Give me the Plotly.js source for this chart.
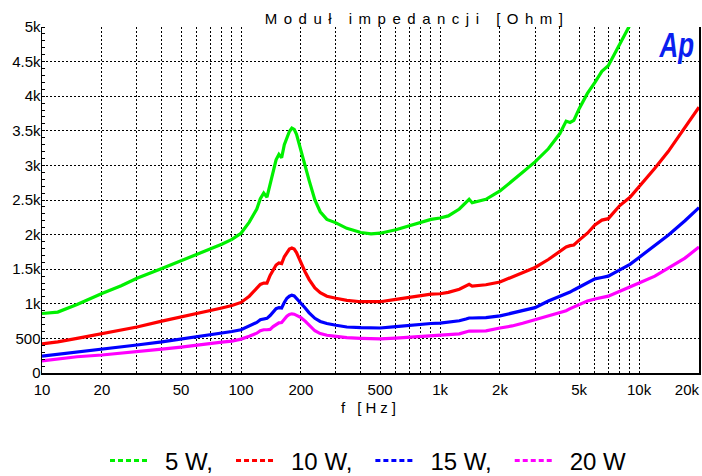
<!DOCTYPE html>
<html>
<head>
<meta charset="utf-8">
<script src="https://cdn.plot.ly/plotly-3.0.1.min.js"></script>
<style>
html,body{margin:0;padding:0;background:#fff;}
#chart{width:702px;height:476px;}
</style>
</head>
<body>
<div id="chart"></div>
<script>
// Frequencies [Hz]
var freq = [10,12,15,20,25,30,40,50,60,70,80,90,100,110,120,125,130,135,140,145,150,155,160,165,170,175,180,185,190,200,210,220,235,250,270,300,340,400,450,500,600,700,800,900,1000,1100,1250,1350,1400,1450,1500,1700,2000,2300,2600,3000,3500,4000,4300,4500,4700,5000,5500,6000,6500,7000,8000,9000,10000,12000,14000,17000,20000];

// Impedance modulus [Ohm]
var z5W = [860,880,990,1150,1260,1370,1510,1620,1720,1790,1860,1930,2020,2180,2370,2520,2600,2540,2720,2880,3080,3160,3110,3300,3400,3490,3540,3520,3450,3200,2980,2780,2500,2330,2220,2170,2090,2030,2010,2020,2070,2130,2180,2220,2240,2270,2370,2460,2510,2460,2470,2510,2630,2780,2900,3050,3240,3460,3640,3620,3650,3820,4040,4200,4360,4440,4760,5030,null,null,null,null,null];
var z10W = [420,450,500,565,620,665,750,810,855,895,940,975,1020,1110,1220,1280,1300,1300,1410,1490,1560,1590,1580,1680,1740,1790,1805,1790,1740,1590,1460,1350,1230,1160,1110,1080,1050,1030,1025,1030,1065,1095,1120,1140,1145,1165,1210,1250,1280,1255,1260,1275,1315,1385,1450,1525,1640,1760,1820,1840,1850,1920,2020,2140,2210,2230,2420,2540,2690,2960,3200,3540,3840];
var z15W = [245,270,310,345,380,405,450,490,520,550,580,600,625,680,730,770,785,790,830,890,930,945,940,1020,1080,1110,1125,1115,1080,1020,940,870,790,745,715,690,665,655,650,650,670,690,705,715,720,735,755,780,795,795,795,800,825,865,900,945,1040,1110,1140,1170,1200,1240,1310,1360,1380,1400,1490,1570,1670,1850,1990,2200,2390];
var z20W = [175,200,235,260,285,305,345,375,405,430,445,460,490,530,575,610,625,625,630,670,705,725,730,780,820,845,855,850,835,800,750,690,610,570,545,530,510,500,495,492,505,520,535,545,550,555,565,590,607,605,605,610,650,680,720,770,820,870,900,930,955,985,1040,1070,1095,1110,1180,1240,1300,1400,1510,1660,1820];

var seriesNames = ['5 W,', '10 W,', '15 W,', '20 W'];
var seriesColors = ['#00f000', '#ff0000', '#0000ff', '#ff00ff'];

// Axis ticks
var xTickVals = [10,20,30,40,50,60,70,80,90,100,200,300,400,500,600,700,800,900,1000,2000,3000,4000,5000,6000,7000,8000,9000,10000,20000];
var xTickText = ['10','20','','','50','','','','','100','200','','','500','','','','','1k','2k','','','5k','','','','','10k','20k'];
var yTickVals = [0,500,1000,1500,2000,2500,3000,3500,4000,4500,5000];
var yTickText = ['0','500','1k','1.5k','2k','2.5k','3k','3.5k','4k','4.5k','5k'];

var font = 'Liberation Sans, Arial, sans-serif';
var ys = [z5W, z10W, z15W, z20W];
var traces = [];
for (var i = 0; i < ys.length; i++) {
  traces.push({
    x: freq, y: ys[i], type: 'scatter', mode: 'lines',
    line: {color: seriesColors[i], width: 3.2},
    showlegend: false, hoverinfo: 'skip', connectgaps: false
  });
}
for (var j = 0; j < ys.length; j++) {
  traces.push({
    x: [null], y: [null], type: 'scatter', mode: 'lines',
    name: seriesNames[j],
    line: {color: seriesColors[j], width: 3, dash: '5px,3px'},
    showlegend: true
  });
}

var layout = {
  width: 702, height: 476,
  margin: {l: 42, r: 3, t: 27, b: 103, autoexpand: false},
  paper_bgcolor: '#ffffff', plot_bgcolor: '#ffffff',
  font: {family: font, color: '#000', size: 15},
  showlegend: true,
  title: {
    text: 'Moduł impedancji [Ohm]',
    font: {family: font, size: 15, color: '#000'},
    x: 0.571, xref: 'paper', xanchor: 'center',
    y: 1 - 19/476, yref: 'container', yanchor: 'middle'
  },
  xaxis: {
    type: 'log', range: [1, Math.log10(20000)],
    tickmode: 'array', tickvals: xTickVals, ticktext: xTickText,
    showgrid: true, gridcolor: '#000', gridwidth: 1, griddash: '2px,2px',
    showline: true, linecolor: '#000', linewidth: 1.5, mirror: false,
    ticks: '', zeroline: false, automargin: false, ticklabeloverflow: 'allow',
    ticklabelstandoff: 2,
    tickfont: {family: font, size: 15, color: '#000'},
    title: {text: 'f [Hz]', font: {family: font, size: 15, color: '#000'}, standoff: 6}
  },
  yaxis: {
    range: [0, 5000], automargin: false,
    tickmode: 'array', tickvals: yTickVals, ticktext: yTickText,
    showgrid: true, gridcolor: '#000', gridwidth: 1, griddash: '2px,2px',
    showline: true, linecolor: '#000', linewidth: 1.5, mirror: true,
    ticks: '', zeroline: false, ticklabelstandoff: -3,
    tickfont: {family: font, size: 15, color: '#000'},
    minor: {dtick: 100, ticks: 'inside', ticklen: 3, tickcolor: '#000', tickwidth: 1, showgrid: false}
  },
  legend: {
    orientation: 'h', x: 0.5, xref: 'container', xanchor: 'center',
    y: 1 - 461/476, yref: 'container', yanchor: 'middle',
    font: {family: font, size: 24, color: '#000'},
    itemwidth: 40, tracegroupgap: 0,
    bgcolor: 'rgba(0,0,0,0)'
  },
  annotations: [{
    text: 'Ap', xref: 'paper', yref: 'paper', x: 0.995, y: 1.015,
    xanchor: 'right', yanchor: 'top', showarrow: false,
    font: {family: 'Liberation Sans, Arial', size: 36, color: '#0a1ef0', weight: 'bold', style: 'italic'}
  }]
};

Plotly.newPlot('chart', traces, layout, {staticPlot: true, displayModeBar: false}).then(function(gd) {
  var t = gd.querySelector('.gtitle');
  if (t) t.style.letterSpacing = '6.5px';
  var xt = gd.querySelector('.xtitle');
  if (xt) xt.style.letterSpacing = '4px';

  // last x tick label flush to right edge
  gd.querySelectorAll('.xtick text').forEach(function(el) {
    if (el.textContent === '20k') el.setAttribute('text-anchor', 'end');
  });

  // narrow the "Ap" logo, keeping its right edge
  var ap = gd.querySelector('.annotation-text');
  if (ap) {
    var bb = ap.getBBox();
    var s = 0.72, right = bb.x + bb.width;
    ap.setAttribute('transform', 'translate(' + (right * (1 - s)) + ',0) scale(' + s + ',1)');
  }

  // legend: longer dashed symbols, wider item spacing
  var svgs = gd.querySelectorAll('.main-svg');
  var svgLeft = svgs[0].getBoundingClientRect().left;
  gd.querySelectorAll('.legend [clip-path]').forEach(function(el) { el.removeAttribute('clip-path'); });
  var cur = 110;
  gd.querySelectorAll('.legend .traces').forEach(function(g) {
    var tr = g.getAttribute('transform') || '';
    var m = /translate\(\s*([-\d.e]+)[\s,]+([-\d.e]+)\s*\)/.exec(tr);
    var tx = m ? +m[1] : 0, ty = m ? +m[2] : 0;
    var p = g.querySelector('.legendlines path');
    var pOrigin = p.getScreenCTM().e - svgLeft;
    g.setAttribute('transform', 'translate(' + (tx + (cur - pOrigin)) + ',' + ty + ')');
    p.setAttribute('d', 'M0,0h40');
    var txt = g.querySelector('.legendtext');
    var tl = txt.getBoundingClientRect().left - svgLeft;
    var want = cur + 55;
    var prev = txt.getAttribute('transform') || '';
    txt.setAttribute('transform', 'translate(' + (want - tl) + ',0) ' + prev);
    var w = txt.getBoundingClientRect().width;
    cur += 55 + w + 23;
  });
});
</script>
</body>
</html>
